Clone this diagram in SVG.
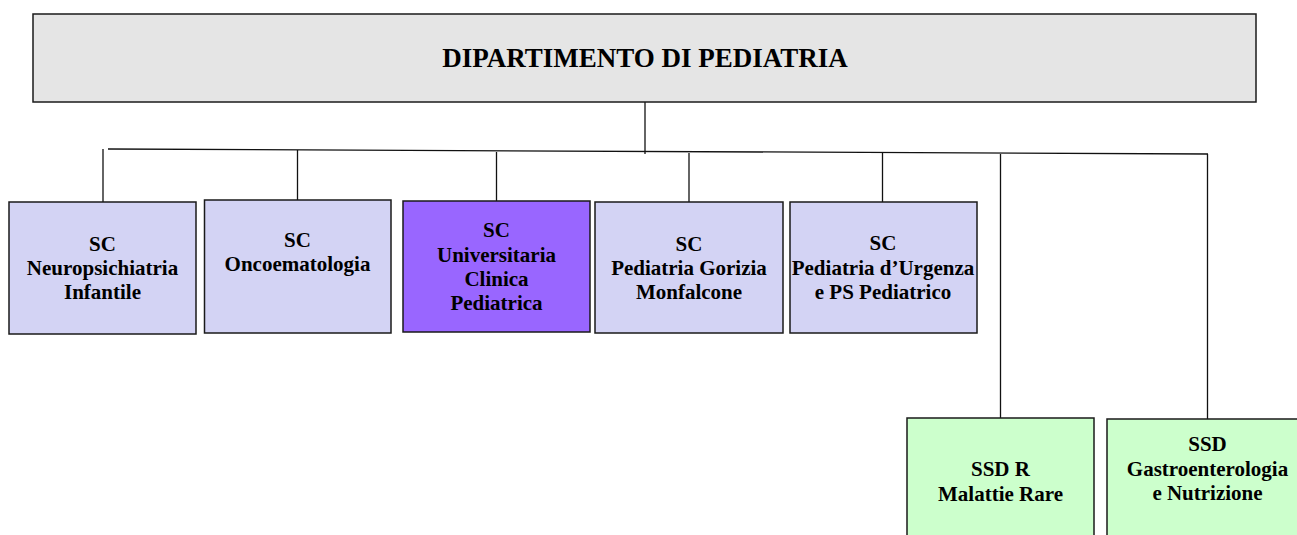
<svg xmlns="http://www.w3.org/2000/svg" width="1297" height="535" viewBox="0 0 1297 535">
<style>
.box{stroke:#1a1a1a;stroke-width:1.5}
.top{fill:#e5e5e5}
.sc{fill:#d3d3f4}
.uni{fill:#9966ff}
.ssd{fill:#ccffcc}
.conn line{stroke:#111;stroke-width:1.3}
text{font-family:"Liberation Serif","Times New Roman",serif;font-weight:bold;fill:#000;text-anchor:middle}
.t{font-size:21px}
.title{font-size:27px}
</style>
<rect width="1297" height="535" fill="#fff"/>
<g id="connectors" class="conn">
<line x1="645" y1="102" x2="645" y2="154"/>
<line x1="108" y1="149" x2="1208" y2="154"/>
<line x1="103" y1="149" x2="103" y2="202"/>
<line x1="297.5" y1="150" x2="297.5" y2="200"/>
<line x1="496.5" y1="152" x2="496.5" y2="201"/>
<line x1="689" y1="153" x2="689" y2="202"/>
<line x1="882.5" y1="153" x2="882.5" y2="202"/>
<line x1="1000.5" y1="154" x2="1000.5" y2="418"/>
<line x1="1207.5" y1="154" x2="1207.5" y2="419"/>
</g>
<g id="dipartimento">
<rect class="box top" x="33" y="14" width="1223" height="88"/>
<text class="title" x="645" y="67">DIPARTIMENTO DI PEDIATRIA</text>
</g>
<g id="neuropsichiatria">
<rect class="box sc" x="9" y="202" width="187" height="132"/>
<text class="t" x="102.5" y="251">SC</text>
<text class="t" x="102.5" y="275">Neuropsichiatria</text>
<text class="t" x="102.5" y="299">Infantile</text>
</g>
<g id="oncoematologia">
<rect class="box sc" x="204.5" y="200" width="186.5" height="133"/>
<text class="t" x="297.5" y="247">SC</text>
<text class="t" x="297.5" y="271">Oncoematologia</text>
</g>
<g id="clinica-pediatrica">
<rect class="box uni" x="403" y="201" width="187" height="131"/>
<text class="t" x="496.5" y="237">SC</text>
<text class="t" x="496.5" y="262">Universitaria</text>
<text class="t" x="496.5" y="286">Clinica</text>
<text class="t" x="496.5" y="310">Pediatrica</text>
</g>
<g id="gorizia-monfalcone">
<rect class="box sc" x="595" y="202" width="188" height="131"/>
<text class="t" x="689" y="251">SC</text>
<text class="t" x="689" y="275">Pediatria Gorizia</text>
<text class="t" x="689" y="299">Monfalcone</text>
</g>
<g id="urgenza">
<rect class="box sc" x="790" y="202" width="187" height="131"/>
<text class="t" x="883" y="250">SC</text>
<text class="t" x="883" y="275">Pediatria d’Urgenza</text>
<text class="t" x="883" y="299">e PS Pediatrico</text>
</g>
<g id="malattie-rare">
<rect class="box ssd" x="907" y="418" width="187" height="130"/>
<text class="t" x="1000.5" y="476">SSD R</text>
<text class="t" x="1000.5" y="501">Malattie Rare</text>
</g>
<g id="gastroenterologia">
<rect class="box ssd" x="1107" y="419" width="200" height="130"/>
<text class="t" x="1207.5" y="451">SSD</text>
<text class="t" x="1207.5" y="476">Gastroenterologia</text>
<text class="t" x="1207.5" y="500">e Nutrizione</text>
</g>
</svg>
